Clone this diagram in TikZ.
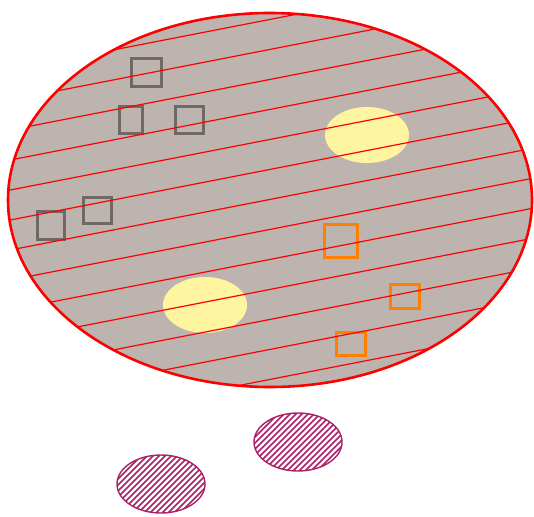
\documentclass[tikz,border=0pt]{standalone}
\definecolor{stone}{RGB}{190,180,175}
\definecolor{boxgrey}{RGB}{110,104,102}
\definecolor{boxorange}{RGB}{255,128,0}
\definecolor{spotyellow}{RGB}{255,244,160}
\definecolor{plum}{RGB}{172,32,104}
\begin{document}
\begin{tikzpicture}[x=1pt,y=-1pt,
    hatch/.style={red, line width=1.2pt},
    rim/.style={draw=red, line width=2.6pt},
    greybox/.style={draw=boxgrey, line width=2.6pt},
    orangebox/.style={draw=boxorange, line width=2.6pt},
    spot/.style={fill=spotyellow},
    plumhatch/.style={plum, line width=1.5pt},
    plumrim/.style={draw=plum, line width=1.4pt}]
    \useasboundingbox (0,0) rectangle (534,516);

    % big body
    \fill[stone] (270,200) ellipse [x radius=262, y radius=187];
    \fill[spot] (367,135) ellipse [x radius=42, y radius=28];
    \fill[spot] (205,305) ellipse [x radius=42, y radius=28];

    \draw[greybox] (131.5,58.5) rectangle (161.5,86.5);
    \draw[greybox] (119.5,106.5) rectangle (142.5,133.5);
    \draw[greybox] (175.5,106.5) rectangle (203.5,133.5);
    \draw[greybox] (83.5,197.5) rectangle (111.5,223.5);
    \draw[greybox] (37.5,211.5) rectangle (64.5,239.5);

    \draw[orangebox] (324.5,224.5) rectangle (357.5,257.5);
    \draw[orangebox] (390.5,284.5) rectangle (419.5,308.5);
    \draw[orangebox] (336.5,332.5) rectangle (365.5,355.5);

    \begin{scope}
        \clip (270,200) ellipse [x radius=262, y radius=187];
        \foreach \k in {0,...,12}
            \draw[hatch] (0,72+\k*30) -- (534,72+\k*30-104);
    \end{scope}
    \draw[rim] (270,200) ellipse [x radius=262, y radius=187];

    % small hatched blobs
    \foreach \cx/\cy in {161/484, 298/442} {
        \begin{scope}
            \clip (\cx,\cy) ellipse [x radius=44, y radius=29];
            \foreach \d in {-78,-72,...,78}
                \draw[plumhatch] (\cx+\d-40,\cy+40) -- (\cx+\d+40,\cy-40);
        \end{scope}
        \draw[plumrim] (\cx,\cy) ellipse [x radius=44, y radius=29];
    }
\end{tikzpicture}
\end{document}
